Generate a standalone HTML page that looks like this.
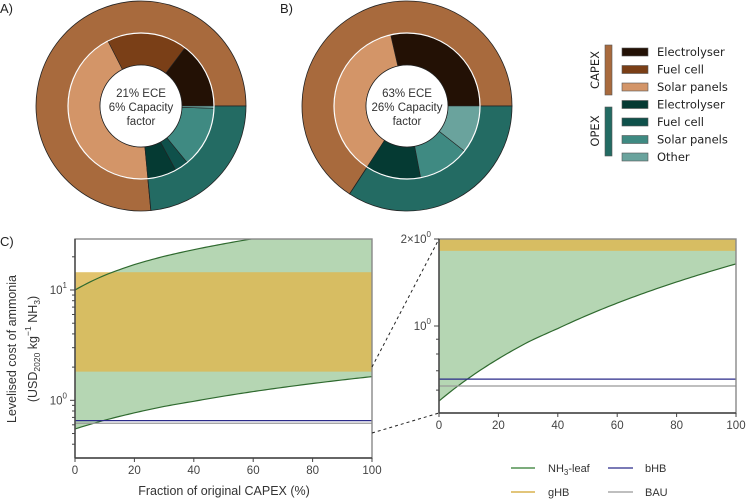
<!DOCTYPE html>
<html><head><meta charset="utf-8">
<style>
body{margin:0;background:#fff;}
svg{display:block;}
svg text{font-family:"Liberation Sans",Arimo,Helvetica,Arial,sans-serif;}
.tk{font-size:11.5px;fill:#444;}
svg text.lg{font-family:"DejaVu Sans","Liberation Sans",sans-serif;font-size:11.5px;fill:#222;}
</style></head>
<body>
<svg id="fig" width="746" height="501" viewBox="0 0 746 501" font-family="Liberation Sans, Arial, sans-serif">
<text x="0" y="13" font-size="13" fill="#222">A)</text>
<text x="280" y="13" font-size="13" fill="#222">B)</text>
<text x="0" y="246" font-size="13" fill="#222">C)</text>
<g id="donutA"></g>
<g id="donutB"></g>
<text text-anchor="middle" font-size="11.5" fill="#333"><tspan x="141" y="97">21% ECE</tspan><tspan x="141" y="111">6% Capacity</tspan><tspan x="141" y="125">factor</tspan></text>
<text text-anchor="middle" font-size="11.5" fill="#333"><tspan x="407" y="97">63% ECE</tspan><tspan x="407" y="111">26% Capacity</tspan><tspan x="407" y="125">factor</tspan></text>
<g id="pieLegend"></g>
<g id="chartL"></g>
<g id="chartR"></g>
<line x1="372" y1="367" x2="439" y2="239" stroke="#222" stroke-dasharray="3,3"/>
<line x1="372" y1="433" x2="439" y2="413" stroke="#222" stroke-dasharray="3,3"/>
<text transform="translate(16,349) rotate(-90)" text-anchor="middle" font-size="12.5" fill="#333">Levelised cost of ammonia</text>
<text transform="translate(37,349) rotate(-90)" text-anchor="middle" font-size="12.5" fill="#333">(USD<tspan font-size="8.5" dy="3">2020</tspan><tspan dy="-3"> kg</tspan><tspan font-size="8.5" dy="-6">−1</tspan><tspan dy="6"> NH</tspan><tspan font-size="8.5" dy="3">3</tspan><tspan dy="-3">)</tspan></text>
<text x="224" y="495" text-anchor="middle" font-size="12.5" fill="#333">Fraction of original CAPEX (%)</text>
<g>
<line x1="511" y1="468" x2="535" y2="468" stroke="#2f7a2f" stroke-width="1.3"/>
<text x="548" y="472" font-size="11" fill="#333">NH<tspan font-size="8" dy="3">3</tspan><tspan dy="-3">-leaf</tspan></text>
<line x1="608" y1="468" x2="633" y2="468" stroke="#2a2a8a" stroke-width="1.3"/>
<text x="645" y="472" font-size="11" fill="#333">bHB</text>
<line x1="511" y1="492" x2="535" y2="492" stroke="#e2c57a" stroke-width="2"/>
<text x="548" y="496" font-size="11" fill="#333">gHB</text>
<line x1="608" y1="492" x2="633" y2="492" stroke="#aaa" stroke-width="1.5"/>
<text x="645" y="496" font-size="11" fill="#333">BAU</text>
</g>
</svg>
<script>
// ---- Donut data (fractions of total, starting at 0° east, counter-clockwise)
const outerLabels = ["CAPEX","OPEX"];
const outerA = [0.765, 0.235];
const outerB = [0.658, 0.342];
const innerLabels = ["capex-electrolyser","capex-fuel-cell","capex-solar-panels","opex-electrolyser","opex-fuel-cell","opex-solar-panels","opex-other"];
const innerA = [0.147, 0.178, 0.440, 0.064, 0.030, 0.136, 0.005];
const innerB = [0.286, 0.0, 0.372, 0.122, 0.0, 0.114, 0.106];
const outerColors = ["#a86a3d","#236b63"];
const innerColors = ["#231105","#7a3f17","#d39568","#053a33","#0f514b","#3f8a82","#6aa39d"];
const legendLabels = ["Electrolyser","Fuel cell","Solar panels","Electrolyser","Fuel cell","Solar panels","Other"];

// ---- Line chart data
const xs = [0,10,20,30,40,50,60,70,80,90,100];
const leafLow = [0.55,0.66,0.77,0.88,0.98,1.09,1.20,1.31,1.42,1.53,1.64];
const leafHigh = [10,13.6,17,20.2,23.2,26.2,29.2,32.2,35.2,38.2,41.2];
const ghbRange = [1.82, 14.5];
const bhbValue = [0.655];
const bauValue = [0.62];
const xTicks = [0,20,40,60,80,100];

const NS="http://www.w3.org/2000/svg";
function mk(tag,attrs,parent){const e=document.createElementNS(NS,tag);for(const k in attrs)e.setAttribute(k,attrs[k]);if(parent)parent.appendChild(e);return e;}

function arcPath(cx,cy,r0,r1,a0,a1){
  const p=(r,a)=>[cx+r*Math.cos(a),cy-r*Math.sin(a)];
  const large=(a1-a0)>Math.PI?1:0;
  const [x1,y1]=p(r1,a0),[x2,y2]=p(r1,a1),[x3,y3]=p(r0,a1),[x4,y4]=p(r0,a0);
  return `M${x1},${y1} A${r1},${r1} 0 ${large} 0 ${x2},${y2} L${x3},${y3} A${r0},${r0} 0 ${large} 1 ${x4},${y4} Z`;
}
function donut(id,cx,cy,outer,inner,tag){
  const g=document.getElementById(id);
  let a=0;
  outer.forEach((v,i)=>{const a1=a+v*2*Math.PI;
    const el=mk('path',{d:arcPath(cx,cy,73,105,a,a1),fill:outerColors[i],stroke:'#222','stroke-width':0.8},g);
    
    
    a=a1;});
  a=0;
  inner.forEach((v,i)=>{const a1=a+v*2*Math.PI;
    if(v>0){const el=mk('path',{d:arcPath(cx,cy,41,73,a,a1),fill:innerColors[i],stroke:'#222','stroke-width':0.6},g);
    
    }
    a=a1;});
  mk('circle',{cx:cx,cy:cy,r:73,fill:'none',stroke:'#fff','stroke-width':1.2},g);
  mk('circle',{cx:cx,cy:cy,r:41,fill:'#fff',stroke:'#222','stroke-width':0.8},g);
}
donut('donutA',141,106,outerA,innerA,'donut-a');
donut('donutB',407,106,outerB,innerB,'donut-b');

// pie legend
(function(){
  const g=document.getElementById('pieLegend');
  const b1=mk('rect',{x:605,y:45,width:7,height:50,fill:outerColors[0],stroke:'#555','stroke-width':0.6},g);
  
  
  const b2=mk('rect',{x:605,y:107,width:7,height:49,fill:outerColors[1],stroke:'#555','stroke-width':0.6},g);
  
  
  const t1=mk('text',{transform:'translate(599,70) rotate(-90)','text-anchor':'middle',class:'lg'},g);t1.textContent='CAPEX';
  
  
  const t2=mk('text',{transform:'translate(599,131) rotate(-90)','text-anchor':'middle',class:'lg'},g);t2.textContent='OPEX';
  
  
  legendLabels.forEach((l,i)=>{const y=52+i*17.5;
    const r=mk('rect',{x:622,y:y-4,width:26,height:8,fill:innerColors[i],stroke:'#555','stroke-width':0.6},g);
    
    
    const t=mk('text',{x:657,y:y+4,class:'lg'},g);t.textContent=l;
    
    });
})();

// Linear data interpolation densified for drawing on log axis
function dense(arr){
  const out=[];
  for(let i=0;i<xs.length-1;i++){
    for(let k=0;k<10;k++){const t=k/10;out.push([xs[i]+(xs[i+1]-xs[i])*t,arr[i]+(arr[i+1]-arr[i])*t]);}
  }
  out.push([xs[xs.length-1],arr[arr.length-1]]);
  return out;
}

function logChart(id,L,R,T,B,ymin,ymax,tag,majorTicks,minorTicks){
  const g=document.getElementById(id);
  const X=v=>L+(v-0)/(100-0)*(R-L);
  const Y=v=>B-(Math.log10(v)-Math.log10(ymin))/(Math.log10(ymax)-Math.log10(ymin))*(B-T);
  const cid='clip'+id;
  const cp=mk('clipPath',{id:cid},g);mk('rect',{x:L,y:T,width:R-L,height:B-T},cp);
  const pg=mk('g',{'clip-path':`url(#${cid})`},g);
  const hiPts=dense(leafHigh).map(p=>[X(p[0]),Y(p[1])]);
  const loPts=dense(leafLow).map(p=>[X(p[0]),Y(p[1])]);
  const d='M'+hiPts.map(p=>p.join(',')).join(' L')+' L'+loPts.slice().reverse().map(p=>p.join(',')).join(' L')+' Z';
  const band=mk('path',{d:d,fill:'#b5d6b3'},pg);
  
  
  const gh=mk('rect',{x:X(0),y:Y(ghbRange[1]),width:X(100)-X(0),height:Y(ghbRange[0])-Y(ghbRange[1]),fill:'#ddb853','fill-opacity':0.85},pg);
  
  
  [loPts,hiPts].forEach((pts,k)=>{
    const l=mk('path',{d:'M'+pts.map(p=>p.join(',')).join(' L'),fill:'none',stroke:'#2f6a2f','stroke-width':1.2},pg);
    
    
  });
  const bh=mk('line',{x1:X(0),x2:X(100),y1:Y(bhbValue[0]),y2:Y(bhbValue[0]),stroke:'#2a2a8a','stroke-width':1.2},pg);
  
  
  const ba=mk('line',{x1:X(0),x2:X(100),y1:Y(bauValue[0]),y2:Y(bauValue[0]),stroke:'#999','stroke-width':1.2},pg);
  
  
  mk('rect',{x:L,y:T,width:R-L,height:B-T,fill:'none',stroke:'#888','stroke-width':1.4},g);
  mk('line',{x1:L,y1:T,x2:L,y2:B,stroke:'#444','stroke-width':1.4},g);
  mk('line',{x1:L,y1:B,x2:R,y2:B,stroke:'#444','stroke-width':1.4},g);
  xTicks.forEach(v=>{mk('line',{x1:X(v),x2:X(v),y1:B,y2:B+4,stroke:'#444'},g);
    const t=mk('text',{x:X(v),y:B+16,'text-anchor':'middle',class:'tk'},g);t.textContent=v;
    
    });
  minorTicks.forEach(v=>mk('line',{x1:L-3,x2:L,y1:Y(v),y2:Y(v),stroke:'#444'},g));
  majorTicks.forEach(m=>{mk('line',{x1:L-5,x2:L,y1:Y(m.v),y2:Y(m.v),stroke:'#444'},g);
    const t=mk('text',{x:L-8,y:Y(m.v)+4,'text-anchor':'end',class:'tk'},g);
    t.innerHTML=m.lab;
    
    });
}
logChart('chartL',75,372,239,458,0.3,29,'left',
  [{v:1,lab:'10<tspan font-size="8" dy="-6">0</tspan>'},{v:10,lab:'10<tspan font-size="8" dy="-6">1</tspan>'}],
  [0.4,0.5,0.6,0.7,0.8,0.9,2,3,4,5,6,7,8,9,20]);
logChart('chartR',439,736,239,413,0.5,2,'right',
  [{v:1,lab:'10<tspan font-size="8" dy="-6">0</tspan>'},{v:2,lab:'2×10<tspan font-size="8" dy="-6">0</tspan>'}],
  [0.6,0.7,0.8,0.9]);
</script>
</body></html>
